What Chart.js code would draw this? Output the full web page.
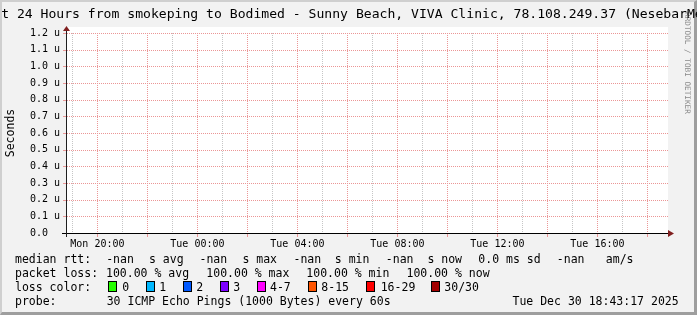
<!DOCTYPE html>
<html>
<head>
<meta charset="utf-8">
<script src="https://cdn.jsdelivr.net/npm/chart.js@4.4.1/dist/chart.umd.min.js"></script>
<style>
  html, body { margin: 0; padding: 0; }
  body { width: 697px; height: 315px; overflow: hidden; position: relative; background: #f2f2f2;
         font-family: "DejaVu Sans Mono", monospace; color: #000; }
  #frame { position: absolute; left: 0; top: 0; width: 697px; height: 315px; box-sizing: border-box;
           border-top: 2px solid #cfcfcf; border-left: 2px solid #cfcfcf;
           border-right: 3px solid #9e9e9e; border-bottom: 3px solid #9e9e9e; }
  #c { position: absolute; left: 0; top: 0; }
  #title { position: absolute; left: 348px; top: 6px; transform: translateX(-50%); white-space: pre;
           font-size: 13.1px; line-height: 15px; }
  #wm { position: absolute; left: 691px; top: 12px; transform: rotate(90deg); transform-origin: 0 0;
        white-space: pre; font-size: 7.7px; line-height: 8px; color: #8c8c8c; }
  .t { position: absolute; white-space: pre; font-size: 11.5px; line-height: 14px; }
  .box { position: absolute; box-sizing: border-box; width: 9px; height: 11px; border: 1px solid #000; }
</style>
</head>
<body>
<div id="frame"></div>
<canvas id="c" width="697" height="315"></canvas>
<div id="wm">RRDTOOL / TOBI OETIKER</div>
<div id="title">Last 24 Hours from smokeping to Bodimed - Sunny Beach, VIVA Clinic, 78.108.249.37 (NesebarMed)</div>
<div id="legend"></div>
<script>
// ---------- data ----------
// time axis in hours since Mon 00:00
const timeStartHour = 18.784;
const timeEndHour = 42.824;
const gridHours = [19, 20, 21, 22, 23, 24, 25, 26, 27, 28, 29, 30, 31, 32, 33, 34, 35, 36, 37, 38, 39, 40, 41, 42];
const labelHours = [20, 24, 28, 32, 36, 40];
const xTickLabels = ["Mon 20:00", "Tue 00:00", "Tue 04:00", "Tue 08:00", "Tue 12:00", "Tue 16:00"];

// y axis in microseconds
const yTickValues = [0, 0.1, 0.2, 0.3, 0.4, 0.5, 0.6, 0.7, 0.8, 0.9, 1.0, 1.1, 1.2];
const yTickLabels = ["0.0  ", "0.1 u", "0.2 u", "0.3 u", "0.4 u", "0.5 u", "0.6 u", "0.7 u", "0.8 u", "0.9 u", "1.0 u", "1.1 u", "1.2 u"];

// median RTT samples: none (100% loss, all -nan)
const medianRtt = [];

// legend statistics
const rttStatNames = ["avg", "max", "min", "now"];
const rttStatValues = ["-nan", "-nan", "-nan", "-nan"];
const rttSd = "0.0";
const rttAmPerSec = "-nan";
const lossStatValues = ["100.00", "100.00", "100.00", "100.00"];
const lossColorLabels = ["0", "1", "2", "3", "4-7", "8-15", "16-29", "30/30"];
const lossColors = ["#26ff00", "#00b8ff", "#0059ff", "#7e00ff", "#ff00ff", "#ff5500", "#ff0000", "#a10000"];
const probeText = "30 ICMP Echo Pings (1000 Bytes) every 60s";
const stampText = "Tue Dec 30 18:43:17 2025";

// ---------- legend layout ----------
const L = document.getElementById('legend');
function txt(s, x, y) {
  const d = document.createElement('div');
  d.className = 't'; d.textContent = s;
  d.style.left = x + 'px'; d.style.top = y + 'px';
  L.appendChild(d);
}
const row = [252, 266, 280, 294];
txt("median rtt:", 15, row[0]);
const rttValX = [106.2, 199.5, 293.5, 385.8];
const rttUnitX = [149, 242.4, 334.8, 427.4];
rttStatNames.forEach((n, i) => {
  txt(rttStatValues[i], rttValX[i], row[0]);
  txt("s " + n, rttUnitX[i], row[0]);
});
txt(rttSd + " ms sd", 478.3, row[0]);
txt(rttAmPerSec, 556.8, row[0]);
txt("am/s", 605.8, row[0]);

txt("packet loss:", 15, row[1]);
const lossX = [106, 206.3, 306.3, 406.5];
rttStatNames.forEach((n, i) => txt(lossStatValues[i] + " % " + n, lossX[i], row[1]));

txt("loss color:", 15, row[2]);
const boxX = [108, 145.5, 182.5, 219.5, 256.5, 307.5, 365.5, 430.5];
const boxLabelX = [122.3, 159.3, 196.3, 233.3, 270, 321.3, 380.7, 444.3];
lossColorLabels.forEach((lab, i) => {
  const b = document.createElement('div');
  b.className = 'box';
  b.style.left = boxX[i] + 'px'; b.style.top = '281px';
  b.style.background = lossColors[i];
  L.appendChild(b);
  txt(lab, boxLabelX[i], row[2]);
});

txt("probe:", 15, row[3]);
txt(probeText, 106.7, row[3]);
txt(stampText, 512.5, row[3]);

// ---------- chart ----------
const MONO = '"DejaVu Sans Mono", monospace';
const MAJOR = '#eb9696';
const MINOR = '#c6c6c6';

const rrdCanvas = {
  id: 'rrdCanvas',
  beforeDraw(chart) {
    const { ctx, chartArea: a } = chart;
    ctx.save();
    ctx.fillStyle = '#ffffff';
    ctx.fillRect(a.left, a.top - 6, a.right - a.left, a.bottom - a.top + 6);
    ctx.restore();
  },
  beforeDatasetsDraw(chart) {
    const { ctx, chartArea: a, scales } = chart;
    const L0 = Math.round(a.left), R0 = Math.round(a.right), T0 = Math.round(a.top), B0 = Math.round(a.bottom);
    ctx.save();
    // vertical grid (hourly minor, 2-hourly major) through the x scale
    gridHours.forEach(h => {
      const px = Math.floor(scales.x.getPixelForValue(h));
      const major = h % 2 === 0;
      ctx.fillStyle = major ? MAJOR : MINOR;
      for (let y = T0; y < B0; y += 2) ctx.fillRect(px, y, 1, 1);
      if (major) ctx.fillRect(px, B0 + 1, 1, 3);
    });
    // horizontal grid through the y scale
    yTickValues.forEach(v => {
      if (v === 0) return;
      const py = Math.round(scales.y.getPixelForValue(v));
      ctx.fillStyle = MAJOR;
      for (let x = L0; x < R0; x += 2) ctx.fillRect(x, py, 1, 1);
      ctx.fillRect(L0 - 4, py, 3, 1);
    });
    ctx.restore();
  },
  afterDraw(chart) {
    const { ctx, chartArea: a } = chart;
    const yb = a.bottom + 0.5, xl = a.left - 0.5;
    ctx.save();
    ctx.lineWidth = 1;
    ctx.strokeStyle = '#000';
    ctx.beginPath(); ctx.moveTo(a.left - 5, yb); ctx.lineTo(a.right, yb); ctx.stroke();
    ctx.strokeStyle = '#1f1f1f';
    ctx.beginPath(); ctx.moveTo(xl, a.bottom + 4); ctx.lineTo(xl, a.top - 2); ctx.stroke();
    ctx.fillStyle = '#801f1f';
    ctx.beginPath(); ctx.moveTo(a.right, yb - 3.5); ctx.lineTo(a.right + 6, yb); ctx.lineTo(a.right, yb + 3.5); ctx.closePath(); ctx.fill();
    ctx.beginPath(); ctx.moveTo(xl - 3.5, a.top - 2); ctx.lineTo(xl, a.top - 7); ctx.lineTo(xl + 3.5, a.top - 2); ctx.closePath(); ctx.fill();
    ctx.restore();
  }
};

new Chart(document.getElementById('c'), {
  type: 'line',
  data: {
    datasets: [{
      label: 'median rtt',
      data: medianRtt,
      borderColor: '#00ff00',
      borderWidth: 1,
      pointRadius: 0
    }]
  },
  options: {
    responsive: false,
    animation: false,
    events: [],
    layout: { padding: { left: 0, top: 33, right: 29, bottom: 62 } },
    plugins: { legend: { display: false }, tooltip: { enabled: false }, title: { display: false } },
    scales: {
      x: {
        type: 'linear',
        min: timeStartHour,
        max: timeEndHour,
        afterFit: s => { s.height = 20; s.paddingLeft = 0; s.paddingRight = 0; },
        afterBuildTicks: s => { s.ticks = gridHours.map(v => ({ value: v })); },
        grid: { display: false, drawTicks: false, tickLength: 0 },
        border: { display: false },
        ticks: {
          autoSkip: false, maxRotation: 0, minRotation: 0, padding: 5,
          color: '#000',
          font: { family: MONO, size: 10 },
          callback: v => { const i = labelHours.indexOf(v); return i >= 0 ? xTickLabels[i] : ''; }
        }
      },
      y: {
        type: 'linear',
        min: 0,
        max: 1.2,
        afterFit: s => { s.width = 67; },
        afterBuildTicks: s => { s.ticks = yTickValues.map(v => ({ value: v })); },
        grid: { display: false, drawTicks: false, tickLength: 0 },
        border: { display: false },
        ticks: {
          padding: 7,
          color: '#000',
          font: { family: MONO, size: 10 },
          callback: v => yTickLabels[yTickValues.indexOf(v)]
        },
        title: {
          display: true,
          text: 'Seconds',
          color: '#000',
          font: { family: MONO, size: 11.5 },
          padding: { top: 4, bottom: 0 }
        }
      }
    }
  },
  plugins: [rrdCanvas]
});
</script>
</body>
</html>
